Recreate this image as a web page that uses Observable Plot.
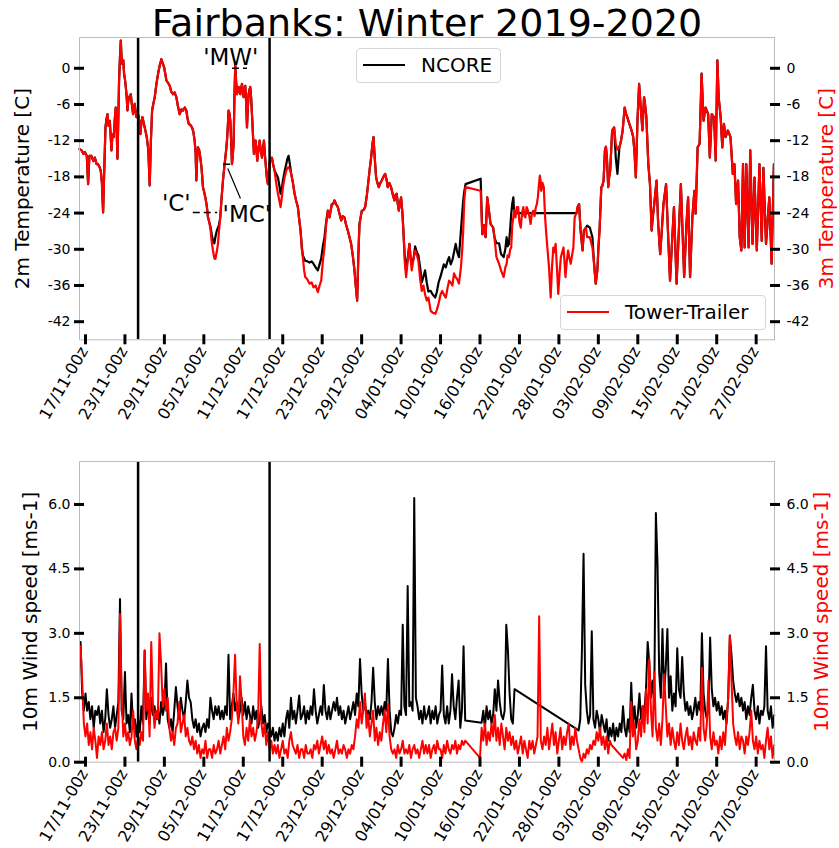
<!DOCTYPE html>
<html>
<head>
<meta charset="utf-8">
<script src="https://cdn.jsdelivr.net/npm/d3@7"></script>
<script src="https://cdn.jsdelivr.net/npm/@observablehq/plot@0.6"></script>
<style>
  html, body { margin: 0; padding: 0; background: #fff; }
  #fig { position: relative; width: 839px; height: 848px; overflow: hidden; font-family: "DejaVu Sans", sans-serif; }
  #fig > svg { position: absolute; left: 0; }
  .legend { position: absolute; box-sizing: border-box; border: 1px solid #d6d6d6; border-radius: 4px; background: rgba(255,255,255,0.8); }
  .legend .sw { position: absolute; height: 0; border-top: 2px solid; }
  .legend .lb { position: absolute; font-size: 20px; line-height: 20px; white-space: nowrap; color: #000; }
</style>
</head>
<body>
<div id="fig"></div>
<script>
// ---------------- DATA ----------------
const chartTitle = "Fairbanks: Winter 2019-2020";
const tempLeftLabel = "2m Temperature [C]";
const tempRightLabel = "3m Temperature [C]";
const windLeftLabel = "10m Wind speed [ms-1]";
const windRightLabel = "10m Wind speed [ms-1]";
const legendLabels = ["NCORE", "Tower-Trailer"];
const legendColors = ["black", "red"];

// x axis: days counted from 17/11/2019 00z
const xStartDay = -0.91;
const xEndDay = 104.79;
const xTickDates = ["2019-11-17","2019-11-23","2019-11-29","2019-12-05","2019-12-11","2019-12-17",
  "2019-12-23","2019-12-29","2020-01-04","2020-01-10","2020-01-16","2020-01-22","2020-01-28",
  "2020-02-03","2020-02-09","2020-02-15","2020-02-21","2020-02-27"];
const eventDays = [8.0, 28.0];

const tempDomain = [-45, 5.1];
const tempTicks = [0, -6, -12, -18, -24, -30, -36, -42];
const windDomain = [0, 7];
const windTicks = [0, 1.5, 3, 4.5, 6];

// temperature samples (day, NCORE 2m, Tower 3m)
const tempDay = [
-0.9,-0.6,-0.3,-0.1,0.2,0.4,0.6,0.9,1.2,1.42,
1.7,1.92,2.15,2.33,2.5,2.68,2.85,3.04,3.2,3.34,
3.5,3.7,3.95,4.1,4.3,4.45,4.6,4.75,4.86,5.0,
5.11,5.25,5.37,5.5,5.62,5.75,5.87,6.0,6.13,6.25,
6.38,6.5,6.63,6.89,7.05,7.24,7.49,7.6,7.75,8.0,
8.2,8.35,8.5,8.66,9.01,9.32,9.55,9.77,9.95,10.13,
10.3,10.53,10.8,11.04,11.3,11.54,11.75,11.95,12.15,12.3,
12.55,12.81,13.05,13.32,13.55,13.82,14.1,14.33,14.6,14.84,
15.1,15.34,15.5,15.7,15.95,16.2,16.4,16.6,16.75,16.86,
16.98,17.11,17.3,17.47,17.65,17.87,18.05,18.23,18.45,18.63,
18.85,19.04,19.2,19.39,19.6,19.75,19.95,20.15,20.3,20.5,
20.7,20.91,21.1,21.27,21.4,21.52,21.65,21.77,21.9,22.03,
22.15,22.28,22.4,22.53,22.65,22.78,22.9,23.04,23.15,23.29,
23.4,23.54,23.65,23.8,23.9,24.05,24.18,24.3,24.45,24.56,
24.7,24.81,24.95,25.06,25.2,25.32,25.45,25.62,25.75,25.87,
26.0,26.13,26.3,26.48,26.65,26.84,27.0,27.14,27.3,27.49,
27.62,27.75,27.9,28.05,28.2,28.35,28.55,28.76,29.0,29.27,
29.5,29.67,29.85,30.03,30.3,30.53,30.7,30.89,31.1,31.29,
31.55,31.8,32.05,32.3,32.5,32.71,32.9,33.06,33.25,33.42,
33.75,34.08,34.4,34.68,35.0,35.34,35.6,35.85,36.1,36.35,
36.6,36.86,37.11,37.3,37.47,37.65,37.87,38.1,38.38,38.6,
38.89,39.1,39.39,39.6,39.9,40.15,40.4,40.65,40.91,41.1,
41.32,41.5,41.67,42.03,42.3,42.53,42.8,43.04,43.25,43.44,
43.65,43.8,44.0,44.2,44.4,44.61,44.85,45.06,45.3,45.57,
45.8,45.97,46.2,46.48,46.75,46.99,47.15,47.34,47.5,47.65,
47.8,48.0,48.2,48.35,48.55,48.76,49.0,49.27,49.45,49.62,
49.9,50.13,50.4,50.63,50.9,51.14,51.4,51.65,51.9,52.15,
52.5,52.8,53.2,53.45,53.7,54.0,54.25,54.5,54.8,55.05,
55.3,55.55,55.8,56.05,56.3,56.55,56.8,57.1,57.3,57.45,
57.6,57.8,60.1,60.35,60.6,60.85,61.1,61.36,61.6,62.0,
62.2,62.5,62.9,63.2,63.6,63.85,64.05,64.2,64.4,64.6,
64.75,64.9,65.07,65.2,65.4,65.6,65.8,66.0,66.2,66.4,
66.6,66.75,66.9,67.1,67.3,67.5,67.7,67.9,68.1,68.3,
68.5,68.65,68.8,68.95,69.1,69.2,69.3,69.5,69.7,69.9,
70.05,70.2,70.5,70.75,70.95,71.15,71.3,71.5,71.7,71.9,
72.1,72.3,72.5,72.7,72.85,73.0,73.2,73.4,73.6,73.8,
74.0,74.2,74.4,74.7,74.85,75.07,75.3,75.6,75.8,76.1,
76.3,76.7,77.1,77.35,77.6,77.85,78.0,78.2,78.45,78.6,
78.8,79.0,79.15,79.3,79.5,79.65,79.8,80.1,80.4,80.65,
80.9,81.2,81.45,81.7,82.0,82.2,82.4,82.65,82.9,83.1,
83.3,83.5,83.7,83.95,84.2,84.45,84.7,84.95,85.1,85.3,
85.6,85.85,86.1,86.3,86.5,86.85,87.1,87.4,87.65,87.9,
88.3,88.5,88.9,89.3,89.5,89.9,90.2,90.55,90.8,91.05,
91.4,91.65,91.95,92.3,92.6,92.8,93.1,93.4,93.7,94.0,
94.3,94.7,94.95,95.25,95.6,95.85,96.1,96.3,96.6,96.85,
97.1,97.35,97.7,98.1,98.45,98.7,98.95,99.25,99.5,99.75,
100.0,100.25,100.5,100.85,101.1,101.45,101.75,102.1,102.5,102.85,
103.1,103.5,104.0,104.35,104.7];

const towerTemp = [
-13.4,-13.6,-14.2,-13.9,-14.5,-19.2,-14.5,-14.5,-15.4,-14.8,
-15.9,-15.9,-16.4,-17,-19,-23.9,-17,-9.8,-8.4,-7.6,
-9.5,-8.7,-13.6,-11,-11.4,-8.5,-6.5,-10.5,-15,-8,
-2,2,4.6,1.5,0.7,1.3,-0.9,-1.8,-3.1,-4.5,
-7,-5.5,-4.8,-4.3,-6,-7.6,-5.9,-7,-8.1,-7.6,
-8.8,-10.9,-9,-8.1,-9.8,-11.4,-13.5,-19.4,-12,-7,
-6,-4.8,-2.5,-0.9,0.5,1.5,0.8,0.2,-1,-2,
-2.4,-2.9,-3.9,-4.3,-4,-4.8,-6.5,-7.6,-6.8,-7,
-6.5,-7,-8.2,-9.2,-9.4,-9.8,-10.5,-12,-14,-18.6,
-15,-13.1,-13.6,-14.8,-16.5,-19.7,-20.5,-21.4,-22.8,-24.7,
-25.6,-27,-28.8,-30.2,-31.5,-31.6,-30.5,-29.1,-27,-24.7,
-21.5,-18.6,-16.5,-14.8,-13.5,-12,-9.5,-7,-7.5,-8.7,
-12,-15.9,-14.5,-12.5,-5,0.7,-2,-4.3,-3.5,-3.1,
-3.8,-4.3,-3.5,-2.6,-3.5,-4.8,-3.5,-2.9,-6,-9.8,
-6.5,-4.3,-3.5,-3.1,-5,-7.6,-10.5,-14.2,-13,-12,
-13.5,-15.3,-13.5,-12,-13.5,-14.8,-13.5,-12,-14.5,-17,
-18.5,-19.2,-17,-15.3,-15,-14.8,-16,-17,-19,-20.8,
-22,-23,-21.5,-19.7,-18,-17,-16.5,-16.4,-16.8,-17.5,
-19,-20.8,-22,-23,-25,-26.9,-30,-31.3,-33.5,-34.6,
-35,-35.7,-35.5,-36.3,-36,-37.1,-36,-35.2,-32,-29.7,
-26,-23.6,-24.7,-23.5,-22.5,-22.5,-21.9,-22.5,-23,-24,
-25.2,-24.5,-24.7,-25.8,-26.9,-28,-29.1,-31,-33.5,-36,
-38.5,-31,-25.8,-23.6,-23.5,-23,-21,-18.6,-16.5,-14.8,
-12.5,-11.4,-15,-18.1,-19,-19.7,-19,-18.6,-18,-17.5,
-18.5,-19.7,-19,-19.7,-21,-21.9,-21,-20.8,-22.5,-23.6,
-22.5,-21.4,-24,-26.9,-32,-34.6,-32,-29.1,-31.5,-33.5,
-31.5,-30.2,-31,-31.9,-35,-36.9,-36,-37.5,-38.5,-38,
-40.2,-40.5,-40.7,-40,-39,-37.5,-36.9,-37.5,-38,-36.5,
-35.2,-35.5,-36,-34,-34.6,-35,-35.7,-33,-30,-26.9,
-22,-19.7,-20.3,-27.5,-26,-28,-21.4,-23.6,-25.8,-26.4,
-28,-31.3,-32.4,-33.5,-34.6,-33,-32.4,-31,-31.3,-30,
-29.7,-26,-24.7,-23.5,-24.7,-23,-23,-25.5,-26.4,-24,
-23,-24.5,-24.7,-23,-23.6,-24.5,-25.8,-24,-23.6,-24.5,
-23,-22.5,-21.4,-19.5,-17.8,-18.5,-20.3,-19,-19.7,-24.7,
-27,-29.1,-33,-38,-33,-29.7,-30.5,-29.1,-33,-37.4,
-34,-31.3,-30.5,-29.7,-32,-34.6,-32,-30.2,-31.5,-32.4,
-31,-29.7,-24.7,-23.9,-23,-22.5,-26.9,-30.2,-26.9,-26.4,
-28,-28,-29.7,-32.4,-35.7,-33.5,-30,-26.4,-19.7,-19.5,
-18.6,-13.6,-13,-14.8,-19.7,-18,-17,-10.3,-9.8,-12.5,
-13.5,-13.1,-12,-10.3,-6.5,-7.5,-8.1,-9,-9.8,-10.5,
-11.4,-14,-18.1,-8.7,-2.6,-6.5,-10.3,-4.8,-6,-8.1,
-15.9,-19.2,-26.9,-24.5,-22.5,-18.6,-25.8,-30.8,-26.9,-22.5,
-19.2,-24.7,-35.2,-26.9,-23,-35.7,-28,-19.2,-26.9,-34.6,
-25.8,-21.4,-34.6,-24.7,-20.3,-24.1,-13.1,-12.5,-0.9,-8.7,
-6.5,-7.6,-14.8,-7.6,-8.1,-15.3,1.3,-4.8,-8.1,-13.1,
-9.2,-11.4,-10.3,-11.4,-17.5,-15.9,-22.5,-18.6,-28,-30.2,
-15.9,-29.7,-15.9,-29.7,-13.6,-29.1,-18.1,-30.2,-15.9,-28.6,
-16.5,-29.1,-21.4,-32.4,-15.9];

const ncoreTemp = [
-13.4,-13.6,-14.2,-13.9,-14.5,-19.2,-14.5,-14.5,-15.4,-14.8,
-15.9,-15.9,-16.4,-17,-19,-23.9,-17,-9.8,-8.4,-7.6,
-9.5,-8.7,-13.6,-11,-11.4,-8.5,-6.5,-10.5,-15,-8,
-2,2,4.6,1.5,0.7,1.3,-0.9,-1.8,-3.1,-4.5,
-7,-5.5,-4.8,-4.3,-6,-7.6,-5.9,-7,-8.1,-7.6,
-8.8,-10.9,-9,-8.1,-9.8,-11.4,-13.5,-19.4,-12,-7,
-6,-4.8,-2.5,-0.9,0.5,1.5,0.8,0.2,-1,-2,
-2.4,-2.9,-3.9,-4.3,-4,-4.8,-6.5,-7.6,-6.8,-7,
-6.5,-7,-8.2,-9.2,-9.4,-9.8,-10.5,-12,-14,-18.6,
-15,-13.1,-13.6,-14.8,-16.5,-19.7,-20.5,-21.4,-22.8,-24.7,
-25.6,-26.4,-27.5,-28.6,-29,-28,-27,-26.4,-26,-24.7,
-21.5,-18.6,-16.5,-14.8,-13.5,-12,-9.5,-7,-7.5,-8.7,
-12,-15.9,-14.5,-12.5,-5,0.7,-2,-4.3,-3.5,-3.1,
-3.8,-4.3,-3.5,-2.6,-3.5,-4.8,-3.5,-2.9,-6,-9.8,
-6.5,-4.3,-3.5,-3.1,-5,-7.6,-10.5,-14.2,-13,-12,
-13.5,-15.3,-13.5,-12,-13.5,-14.8,-13.5,-12,-14.5,-17,
-18.5,-19.2,-17,-15.3,-15,-14.8,-16,-17,-17.5,-18.1,
-19.5,-20.8,-20,-18.6,-17,-15.9,-15,-14.5,-16,-17.5,
-19,-20.8,-22,-23,-25,-26.9,-29.5,-31,-31.5,-31.9,
-32,-32.2,-32,-32.4,-33,-33.5,-32.5,-31.5,-29.5,-28,
-25.5,-23.6,-24.7,-23.5,-22.5,-22.5,-21.9,-22.5,-23,-24,
-25.2,-24.5,-24.7,-25.8,-26.9,-28,-29.1,-31,-33.5,-36,
-38.5,-31,-25.8,-23.6,-23.5,-23,-21,-18.6,-16.5,-14.8,
-12.5,-11.4,-15,-18.1,-19,-19.7,-19,-18.6,-18,-17.5,
-18.5,-19.7,-19,-19.7,-21,-21.9,-21,-20.8,-22.5,-23.6,
-22.5,-21.4,-24,-26.9,-31,-33.5,-31.5,-29.1,-31.5,-32.5,
-31.5,-29.5,-30.5,-31,-33,-35.5,-34.5,-33.5,-35.5,-37,
-36.9,-37.5,-38,-37,-35.5,-34.5,-33.5,-32.5,-33,-32,
-31.3,-32.5,-31.8,-30.5,-29.1,-30.5,-31.3,-26.9,-24,-21.9,
-20.5,-19.2,-18.3,-27.5,-26,-28,-21.4,-23.6,-25.8,-26.4,
-28,-29,-29,-30.8,-31.3,-30,-28,-29.5,-29.1,-26.5,
-24.1,-22.5,-21.4,-24,null,null,null,null,null,null,
null,null,null,null,null,null,null,null,null,null,
null,null,null,null,null,null,null,null,null,null,
null,null,null,null,null,null,null,null,null,null,
null,null,null,null,null,null,null,null,null,null,
null,null,null,-24,-23,-22.5,-26.9,-30.2,-26.9,-26.4,
-26.1,-26.4,-28,-32.4,-35.7,-33.5,-30,-26.4,-19.7,-19.5,
-18.6,-13.6,-13,-14.8,-19.7,-18,-17,-10.3,-9.8,-14.8,
-17.5,-13.1,-12,-10.3,-6.5,-7.5,-8.1,-9,-9.8,-10.5,
-11.4,-14,-18.1,-8.7,-2.6,-6.5,-10.3,-4.8,-6,-8.1,
-15.9,-19.2,-26.9,-24.5,-22.5,-18.6,-25.8,-30.8,-26.9,-22.5,
-19.2,-24.7,-35.2,-26.9,-23,-35.7,-28,-19.2,-26.9,-34.6,
-25.8,-21.4,-34.6,-24.7,-20.3,-24.1,-13.1,-12.5,-0.9,-8.7,
-6.5,-7.6,-14.8,-7.6,-8.1,-15.3,1.3,-4.8,-8.1,-13.1,
-9.2,-11.4,-10.3,-11.4,-17.5,-15.9,-22.5,-18.6,-28,-30.2,
-15.9,-29.7,-15.9,-29.7,-13.6,-29.1,-18.1,-30.2,-15.9,-28.6,
-16.5,-29.1,-21.4,-32.4,-15.9];

// wind: samples every 6 h starting at day -0.75 (null = missing, line joins across)
const windStartDay = -0.75;
const windStepDays = 0.25;
const ncoreWind = [
2.8,1.6,1.2,
1.6,1.2,1.4,1.0, 1.3,0.8,1.2,1.1, 1.3,0.9,1.2,0.7, 1.0,1.7,1.1,0.8, 1.0,1.3,0.8,1.1,
1.4,3.8,1.2,1.0, 2.1,0.9,1.1,0.7, 1.6,0.8,1.0,0.6, 1.0,0.7,1.3,0.9, 2.6,1.0,1.4,0.9,
1.5,1.1,1.3,1.0, 1.2,0.9,1.4,1.1, 1.3,2.3,1.0,0.8, 1.0,0.7,1.2,1.75, 1.3,1.0,1.5,1.2,
1.0,1.4,1.9,1.5, 1.4,1.0,0.8,1.0, 0.7,0.9,0.6,0.8, 0.9,0.7,1.0,0.8, 1.5,1.2,1.0,1.3,
1.1,1.3,1.0,1.2, 1.0,1.3,1.1,2.5, 1.0,1.3,1.6,1.2, 1.4,1.0,1.2,1.5, 1.1,1.4,1.0,1.3,
1.1,0.9,1.3,1.0, 1.2,0.8,1.0,1.3, 0.9,1.1,0.7,0.9, 0.8,0.6,0.8,0.5, 0.7,0.5,0.8,0.6,
0.9,0.6,1.0,1.2, 0.8,1.5,1.0,1.2, 0.9,1.2,1.55,1.0, 1.1,1.3,0.9,1.2, 1.0,1.3,1.1,1.7,
1.2,0.9,1.1,1.3, 1.1,1.8,1.2,1.0, 1.3,1.0,1.2,1.4, 1.2,1.5,1.1,1.3, 1.0,1.2,0.9,1.1,
1.3,1.0,1.2,1.4, 1.1,1.6,1.3,2.4, 1.6,1.2,1.4,1.1, 1.2,1.0,1.4,2.2, 1.4,1.0,1.3,1.1,
1.3,1.1,1.4,1.2, 2.4,1.2,0.7,0.6, 0.8,1.1,0.9,1.2, 1.1,3.2,1.3,1.1, 4.1,1.3,1.4,1.2,
6.15,1.5,1.3,1.0, 1.2,0.9,1.3,1.0, 1.1,1.3,0.9,1.2, 1.0,1.3,0.9,1.1, 1.2,2.25,1.1,0.9,
1.3,0.9,1.2,2.05, 1.3,1.0,1.5,1.9, 0.8,1.2,2.7,0.97, null,null,null,null, null,null,null,null,
null,0.92,1.2,0.8, 1.3,1.0,1.2,0.9, 1.1,1.7,1.2,1.9, 1.4,1.1,1.0,1.2, 3.2,2.6,1.6,1.0,
0.9,1.7,null,null, null,null,null,null, null,null,null,null, null,null,null,null, null,null,null,null,
null,null,null,null, null,null,null,null, null,null,null,null, null,null,null,null, null,null,null,null,
0.74,1.0,2.6,4.85, 1.8,1.2,0.9,1.1, 3.05,1.0,0.8,1.2, 1.0,0.7,1.1,0.9, 0.7,1.0,0.5,0.8,
0.6,0.9,0.5,0.8, 0.6,0.9,0.7,1.3, 0.8,0.6,1.0,0.7, 1.85,0.9,1.3,0.8, 1.1,1.6,1.0,1.3,
1.2,1.7,2.8,2.3, 1.5,1.9,1.4,5.8, 4.6,2.1,1.5,3.1, 1.6,2.2,3.1,1.5, 2.0,1.2,1.6,1.3,
2.65,1.7,1.5,2.45, 1.6,1.2,1.4,1.1, 1.3,1.0,1.2,1.5, 1.1,1.4,1.2,3.0, 1.6,1.2,1.0,1.3,
2.9,1.7,1.3,1.5, 1.2,1.4,1.1,1.3, 1.0,1.2,0.9,1.5, 2.95,2.5,1.9,1.6, 1.4,1.6,1.3,1.5,
1.2,1.4,1.0,1.3, 1.1,1.5,1.8,1.2, 1.0,1.3,0.9,1.2, 1.1,1.3,2.7,1.2, 1.0,1.3,0.8,1.1];

const towerWind = [
2.7,1.9,0.9,
0.6,0.9,0.4,0.7, 0.3,0.8,0.5,0.1, 0.6,0.4,0.7,0.3, 0.5,0.9,0.4,0.6, 0.3,0.7,0.8,0.5,
0.8,3.45,1.6,0.6, 0.9,0.5,0.7,0.4, 0.6,1.2,0.5,0.3, 0.6,0.4,0.7,0.5, 2.6,1.2,1.6,0.6,
2.8,1.4,0.8,1.2, 1.0,3.0,2.3,1.3, 1.7,1.2,1.5,0.8, 0.5,0.7,0.4,0.8, 0.9,1.4,0.7,0.9,
1.1,0.6,0.8,0.5, 0.4,0.6,0.3,0.5, 0.2,0.4,0.1,0.3, 0.2,0.5,0.1,0.3, 0.3,0.1,0.4,0.2,
0.3,0.5,0.2,0.4, 0.6,0.3,0.8,0.5, 0.7,1.0,1.6,2.5, 1.3,0.9,2.0,1.4, 0.6,0.4,0.8,0.5,
1.0,0.6,0.8,0.5, 0.7,1.0,2.75,0.9, 0.6,0.9,0.4,0.7, 0.3,0.5,0.2,0.4, 0.2,0.4,0.1,0.3,
0.5,0.2,0.3,0.1, 0.5,0.7,0.4,0.3, 0.2,0.4,0.1,0.3, 0.3,0.1,0.4,0.2, 0.2,0.3,0.1,0.4,
0.3,0.5,0.2,0.4, 0.6,0.3,0.5,0.2, 0.4,0.2,0.3,0.1, 0.3,0.5,0.2,0.3, 0.2,0.4,0.3,0.1,
0.3,0.2,0.4,0.3, 0.6,1.0,0.8,1.4, 0.9,1.2,1.6,0.8, 1.1,0.6,0.9,1.2, 0.5,0.8,0.4,0.7,
0.5,0.9,1.2,0.7, 1.35,0.6,0.3,0.2, 0.3,0.1,0.4,0.2, 0.3,0.5,0.2,0.3, 0.2,0.4,0.1,0.3,
0.4,0.2,0.3,0.1, 0.3,0.5,0.2,0.4, 0.2,0.4,0.1,0.3, 0.4,0.2,0.5,0.3, 0.3,0.1,0.4,0.2,
0.5,0.3,0.2,0.4, 0.3,0.5,0.2,0.4, 0.3,0.5,0.4,0.5, null,null,null,null, null,null,null,null,
0.1,0.8,0.5,0.9, 0.4,0.7,0.5,0.9, 0.6,1.1,0.5,0.8, 0.4,0.9,0.6,0.3, 0.8,0.5,0.7,0.4,
0.6,0.3,0.5,0.2, 0.4,0.6,0.2,0.5, 0.3,0.1,0.5,0.3, 0.5,0.2,0.4,0.6, 3.4,0.5,0.3,0.6,
0.4,0.8,0.3,0.6, 0.9,0.4,0.7,0.2, 0.5,0.8,0.3,0.6, 0.4,0.7,0.9,0.3, 0.6,0.4,0.8,0.5,
0.3,0.1,0.0,0.2, 0.1,0.3,0.2,0.4, 0.3,0.5,0.4,0.7, 0.5,0.8,0.4,0.6, 0.3,0.6,0.2,0.5,
0.4,null,null,null, null,null,null,0.1, 0.2,0.05,0.3,0.1, 1.4,0.6,0.9,0.3, 0.5,1.0,0.6,1.3,
0.7,1.7,0.9,2.4, 1.2,0.6,2.1,0.8, 0.5,0.9,0.4,1.0, 2.05,1.3,0.6,0.9, 0.4,0.8,0.5,0.3,
0.7,0.4,0.9,0.5, 0.3,0.6,0.8,0.4, 0.6,0.3,0.7,0.5, 0.4,0.8,0.5,2.2, 0.8,0.5,0.9,1.9,
0.6,0.3,0.7,0.4, 0.5,0.2,0.6,0.3, 0.7,0.4,1.0,1.5, 2.95,1.9,0.9,0.6, 0.4,0.7,0.3,0.6,
0.5,0.2,0.6,0.4, 0.7,1.2,0.5,0.3, 0.6,0.2,0.5,0.3, 0.4,0.1,0.5,0.8, 0.3,0.6,0.1,0.4];

// annotation periods drawn in the temperature panel
const periodLabel = ["'C'", "'MC'", "'MW'"];
const periodStartDay = [16.4, 21.0, 22.36];
const periodEndDay = [20.1, 22.36, 24.64];
const periodTemp = [-23.9, -15.9, 0.0];
const periodLabelDay = [16.0, 20.85, 22.1];
const periodLabelTemp = [-23.6, -25.4, 0.5];
const periodLabelAlign = ["end", "start", "middle"];
const leaderFromDay = [21.64], leaderFromTemp = [-16.6];
const leaderToDay = [23.57], leaderToTemp = [-21.6];

// ---------------- DRAW ----------------
[[tempDay, towerTemp, "towerTemp"], [tempDay, ncoreTemp, "ncoreTemp"]].forEach(([a, b, n]) => {
  if (a.length !== b.length) console.error("length mismatch", n, a.length, b.length);
});

const FONT = "DejaVu Sans";
const W = 839;
const FRAME_L = 79, FRAME_R = 774;
const T0 = Date.UTC(2019, 10, 17);
const dayToDate = d => new Date(T0 + d * 864e5);
const xDomain = [dayToDate(xStartDay), dayToDate(xEndDay)];
const xTicks = xTickDates.map(s => new Date(s + "T00:00:00Z"));
const fmtX = d3.utcFormat("%d/%m-%Hz");
const blank = () => "";
const fmtTemp = d => (d < 0 ? "-" : "") + Math.abs(d);
const fmtWind = d3.format(".1f");

const ncoreT = tempDay.map((d, i) => ({date: dayToDate(d), v: ncoreTemp[i]})).filter(p => p.v != null);
const towerT = tempDay.map((d, i) => ({date: dayToDate(d), v: towerTemp[i]})).filter(p => p.v != null);
const windSeries = arr => arr.map((v, i) => ({date: dayToDate(windStartDay + i * windStepDays), v})).filter(p => p.v != null);
const ncoreW = windSeries(ncoreWind);
const towerW = windSeries(towerWind);
const eventDates = eventDays.map(dayToDate);

function axes(yTicks, yFmt) {
  return [
    Plot.axisX(xTicks, {anchor: "bottom", tickSize: 10, dy: -5, strokeWidth: 3, tickFormat: blank, label: null}),
    Plot.axisX(xTicks, {anchor: "bottom", tickSize: 0, tickPadding: 11, dx: 3, tickRotate: -60, textAnchor: "end", lineAnchor: "bottom", tickFormat: fmtX, fontSize: 16, label: null, fill: "black"}),
    Plot.axisY(yTicks, {anchor: "left", tickSize: 10, dx: 5, strokeWidth: 3, tickFormat: blank, label: null}),
    Plot.axisY(yTicks, {anchor: "left", tickSize: 0, tickPadding: 9, tickFormat: yFmt, fontSize: 14, label: null, fill: "black"}),
    Plot.axisY(yTicks, {anchor: "right", tickSize: 10, dx: -5, strokeWidth: 3, tickFormat: blank, label: null}),
    Plot.axisY(yTicks, {anchor: "right", tickSize: 0, tickPadding: 12, tickFormat: yFmt, fontSize: 14, label: null, fill: "black"})
  ];
}

const pIdx = periodLabel.map((_, i) => i);
const topSvg = Plot.plot({
  width: W, height: 450,
  marginTop: 37, marginBottom: 110.7, marginLeft: FRAME_L, marginRight: W - FRAME_R,
  style: {fontFamily: FONT, fontSize: "14px", background: "transparent", color: "black", overflow: "visible"},
  x: {type: "utc", domain: xDomain, label: null},
  y: {domain: tempDomain, label: null},
  marks: [
    Plot.line(ncoreT, {x: "date", y: "v", stroke: "black", strokeWidth: 2.2}),
    Plot.line(towerT, {x: "date", y: "v", stroke: "red", strokeWidth: 2.2}),
    Plot.ruleX(eventDates, {stroke: "black", strokeWidth: 2.5}),
    Plot.ruleY(pIdx, {y: i => periodTemp[i], x1: i => dayToDate(periodStartDay[i]), x2: i => dayToDate(periodEndDay[i]), stroke: "black", strokeWidth: 1.5, strokeDasharray: "7,4"}),
    Plot.link([0], {x1: i => dayToDate(leaderFromDay[i]), y1: i => leaderFromTemp[i], x2: i => dayToDate(leaderToDay[i]), y2: i => leaderToTemp[i], stroke: "black", strokeWidth: 1.2}),
    ...["end", "start", "middle"].map(al => Plot.text(pIdx.filter(i => periodLabelAlign[i] === al), {
      x: i => dayToDate(periodLabelDay[i]), y: i => periodLabelTemp[i], text: i => periodLabel[i],
      textAnchor: al, lineAnchor: "bottom", fontSize: 23, fill: "black"})),
    Plot.frame({stroke: "#bcbcbc", strokeWidth: 1}),
    ...axes(tempTicks, fmtTemp),
    Plot.text([chartTitle], {text: d => d, frameAnchor: "top", dy: -2, lineAnchor: "bottom", fontSize: 38, fill: "black"}),
    Plot.text([tempLeftLabel], {text: d => d, frameAnchor: "left", dx: -57, rotate: -90, textAnchor: "middle", lineAnchor: "middle", fontSize: 20, fill: "black"}),
    Plot.text([tempRightLabel], {text: d => d, frameAnchor: "right", dx: 52, rotate: -90, textAnchor: "middle", lineAnchor: "middle", fontSize: 20, fill: "red"})
  ]
});
topSvg.style.top = "0px";

const botSvg = Plot.plot({
  width: W, height: 398,
  marginTop: 11, marginBottom: 86.3, marginLeft: FRAME_L, marginRight: W - FRAME_R,
  style: {fontFamily: FONT, fontSize: "14px", background: "transparent", color: "black", overflow: "visible"},
  x: {type: "utc", domain: xDomain, label: null},
  y: {domain: windDomain, label: null},
  marks: [
    Plot.line(ncoreW, {x: "date", y: "v", stroke: "black", strokeWidth: 2}),
    Plot.line(towerW, {x: "date", y: "v", stroke: "red", strokeWidth: 2}),
    Plot.ruleX(eventDates, {stroke: "black", strokeWidth: 2.5}),
    Plot.frame({stroke: "#bcbcbc", strokeWidth: 1}),
    ...axes(windTicks, fmtWind),
    Plot.text([windLeftLabel], {text: d => d, frameAnchor: "left", dx: -49, rotate: -90, textAnchor: "middle", lineAnchor: "middle", fontSize: 20, fill: "black"}),
    Plot.text([windRightLabel], {text: d => d, frameAnchor: "right", dx: 47, rotate: -90, textAnchor: "middle", lineAnchor: "middle", fontSize: 20, fill: "red"})
  ]
});
botSvg.style.top = "450px";

const fig = document.getElementById("fig");
fig.appendChild(topSvg);
fig.appendChild(botSvg);

// legends (matplotlib-style boxes inside the temperature panel)
const legendBoxes = [
  {left: 356, top: 48, width: 145, height: 35},
  {left: 560, top: 295, width: 206, height: 35}
];
legendLabels.forEach((lab, i) => {
  const b = legendBoxes[i];
  const box = document.createElement("div");
  box.className = "legend";
  Object.assign(box.style, {left: b.left + "px", top: b.top + "px", width: b.width + "px", height: b.height + "px"});
  const sw = document.createElement("div");
  sw.className = "sw";
  Object.assign(sw.style, {left: "6px", top: "15px", width: "42px", borderTopColor: legendColors[i]});
  const tx = document.createElement("div");
  tx.className = "lb";
  tx.textContent = lab;
  Object.assign(tx.style, {left: "64px", top: "6px"});
  box.appendChild(sw);
  box.appendChild(tx);
  fig.appendChild(box);
});
</script>
</body>
</html>
